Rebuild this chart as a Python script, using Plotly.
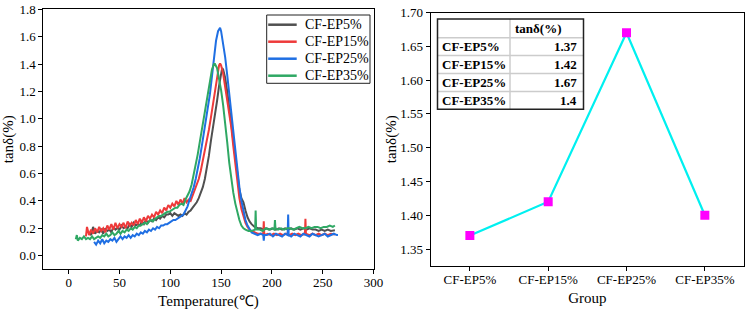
import plotly.graph_objects as go

# ---------------- data: left panel (tanδ vs temperature) ----------------
t_ep5 = [20, 22, 24, 26, 28,
         30, 32, 34, 36, 38, 40, 42, 44, 46, 48,
         50, 52, 54, 56, 58, 60, 62, 64, 66, 68,
         70, 72, 74, 76, 78, 80, 82, 84, 86, 88,
         90, 92, 94, 96, 98, 100, 102, 104, 106, 108,
         110, 112, 114, 116, 118,
         120, 122, 124, 126, 128, 130, 132, 134, 136, 138,
         140, 142, 144, 146, 148, 150, 151,
         152, 154, 156, 158, 160, 162, 164, 166, 168, 170, 172, 174, 176, 178, 180,
         183, 186, 189, 192, 195, 198, 201, 204, 207, 210, 213, 216, 219, 222, 225,
         228, 231, 234, 237, 240, 243, 246, 249, 252, 255, 258, 262]
tan_ep5 = [0.17, 0.15, 0.21, 0.16, 0.18,
           0.17, 0.19, 0.16, 0.20, 0.18, 0.19, 0.17, 0.21, 0.19, 0.20,
           0.19, 0.22, 0.20, 0.21, 0.20, 0.23, 0.21, 0.24, 0.22, 0.23,
           0.22, 0.25, 0.23, 0.26, 0.24, 0.26, 0.25, 0.27, 0.26, 0.28,
           0.27, 0.29, 0.28, 0.30, 0.30, 0.31, 0.29, 0.31, 0.30, 0.29,
           0.30, 0.29, 0.31, 0.30, 0.32,
           0.33, 0.35, 0.37, 0.39, 0.42, 0.46, 0.50, 0.56, 0.64, 0.73,
           0.84, 0.93, 1.03, 1.13, 1.24, 1.33, 1.37,
           1.36, 1.30, 1.20, 1.08, 0.97, 0.84, 0.70, 0.58, 0.48, 0.42, 0.39, 0.33, 0.28, 0.25, 0.23,
           0.21, 0.20, 0.20, 0.19, 0.20, 0.19, 0.20, 0.19, 0.20, 0.19, 0.20, 0.19, 0.20, 0.19, 0.20,
           0.19, 0.20, 0.19, 0.20, 0.19, 0.19, 0.18, 0.19, 0.18, 0.19, 0.18, 0.185]

t_ep15 = [17, 18,
          20, 22, 24, 26, 28, 30, 32, 34, 36, 38, 40, 42, 44, 46, 48, 50, 52, 54, 56, 58,
          60, 62, 64, 66, 68, 70, 72, 74, 76, 78, 80, 82, 84, 86, 88, 90, 92, 94, 96, 98,
          100, 102, 104, 106, 108, 110, 112, 114, 116, 118, 120, 122, 124, 126, 128, 130, 132, 134, 136, 138,
          140, 142, 144, 146, 148, 149, 150,
          152, 154, 156, 158, 160, 162, 164, 166, 168, 170, 172, 174, 176, 178, 180,
          183, 186, 189, 191.5, 192, 192.5,
          196, 199, 202, 205, 208, 211, 214, 217, 220, 223, 226, 229, 232,
          232.5, 233, 233.5,
          237, 240, 243, 246, 249, 252, 255, 258, 262]
tan_ep15 = [0.14, 0.21,
            0.15, 0.19, 0.16, 0.20, 0.17, 0.21, 0.18, 0.20, 0.17, 0.22, 0.19, 0.23, 0.19, 0.24, 0.20, 0.23, 0.21, 0.24, 0.20, 0.25,
            0.22, 0.24, 0.22, 0.26, 0.23, 0.27, 0.24, 0.28, 0.25, 0.29, 0.27, 0.30, 0.28, 0.32, 0.30, 0.33, 0.31, 0.35, 0.33, 0.37,
            0.35, 0.38, 0.36, 0.40, 0.37, 0.41, 0.38, 0.42, 0.39, 0.41, 0.40, 0.44, 0.47, 0.51, 0.56, 0.62, 0.69, 0.77, 0.84, 0.92,
            1.01, 1.11, 1.21, 1.31, 1.39, 1.405, 1.39,
            1.33, 1.23, 1.12, 1.03, 0.94, 0.80, 0.66, 0.53, 0.42, 0.34, 0.28, 0.24, 0.21, 0.19, 0.18,
            0.17, 0.16, 0.16, 0.16, 0.25, 0.15,
            0.16, 0.15, 0.16, 0.15, 0.16, 0.15, 0.16, 0.15, 0.16, 0.15, 0.16, 0.15, 0.16,
            0.15, 0.27, 0.16,
            0.15, 0.16, 0.15, 0.16, 0.15, 0.16, 0.15, 0.16, 0.155]

t_ep25 = [25, 27, 29, 31, 33, 35, 37, 39, 41, 43,
          45, 47, 49, 51, 53, 55, 57, 59, 61, 63,
          65, 67, 69, 71, 73, 75, 77, 79, 81, 83,
          85, 87, 89, 91, 93, 95, 97, 99, 101, 103,
          105, 107, 109, 111, 113, 115, 117, 119, 121, 123,
          125, 127, 129, 131, 133, 135, 137, 139, 141, 143, 145, 147, 148, 149,
          150, 152, 154, 156, 158, 160, 162, 164, 166, 168, 170, 172, 174, 176, 178, 180,
          183, 186, 189, 191.5, 192, 192.5,
          195, 198, 201, 204, 207, 210, 213, 215.5, 216, 216.5,
          219, 222, 225, 228, 231, 234, 237, 240, 243, 246, 249, 252, 255, 258, 261, 264, 265]
tan_ep25 = [0.10, 0.08, 0.11, 0.09, 0.12, 0.09, 0.11, 0.10, 0.12, 0.11,
            0.13, 0.10, 0.12, 0.14, 0.12, 0.14, 0.13, 0.15, 0.13, 0.15,
            0.14, 0.16, 0.15, 0.17, 0.16, 0.18, 0.17, 0.19, 0.18, 0.20,
            0.19, 0.21, 0.20, 0.22, 0.22, 0.23, 0.23, 0.24, 0.25, 0.26,
            0.26, 0.27, 0.28, 0.29, 0.30, 0.33, 0.36, 0.41, 0.45, 0.50,
            0.56, 0.63, 0.71, 0.80, 0.89, 0.97, 1.07, 1.18, 1.31, 1.45, 1.57, 1.64, 1.66, 1.665,
            1.64, 1.56, 1.45, 1.32, 1.18, 1.05, 0.92, 0.78, 0.63, 0.50, 0.40, 0.32, 0.26, 0.22, 0.19, 0.17,
            0.16, 0.15, 0.16, 0.15, 0.11, 0.15,
            0.15, 0.16, 0.14, 0.16, 0.15, 0.14, 0.16, 0.15, 0.30, 0.15,
            0.14, 0.16, 0.15, 0.14, 0.16, 0.15, 0.14, 0.16, 0.15, 0.14, 0.15, 0.16, 0.14, 0.15, 0.16, 0.15, 0.15]

t_ep35 = [7, 8, 9,
          11, 13, 15, 17, 19, 21, 23, 25, 27, 29,
          31, 33, 35, 37, 39, 41, 43, 45, 47, 49,
          51, 53, 55, 57, 59, 61, 63, 65, 67, 69,
          71, 73, 75, 77, 79, 81, 83, 85, 87, 89,
          91, 93, 95, 97, 99, 101, 103, 105, 107, 109,
          111, 113, 115, 117, 119,
          121, 123, 125, 127, 129, 131, 133, 135, 137, 139, 141, 143, 144,
          146, 148, 150, 152, 154, 156, 158, 160, 162, 164, 166, 168, 170, 172, 174,
          177, 180, 183, 183.5, 184, 184.5,
          188, 191, 194, 197, 200, 202.5, 203, 203.5,
          206, 209, 212, 215, 218, 221, 224, 227, 230, 233, 236, 239, 242, 245, 248, 251, 254, 257, 260, 262]
tan_ep35 = [0.12, 0.15, 0.11,
            0.13, 0.12, 0.14, 0.12, 0.13, 0.12, 0.14, 0.12, 0.13, 0.14,
            0.13, 0.15, 0.14, 0.16, 0.14, 0.15, 0.17, 0.15, 0.16, 0.18,
            0.16, 0.18, 0.17, 0.19, 0.18, 0.20, 0.19, 0.21, 0.20, 0.22,
            0.22, 0.23, 0.24, 0.23, 0.25, 0.26, 0.25, 0.27, 0.28, 0.29,
            0.29, 0.30, 0.31, 0.32, 0.32, 0.33, 0.34, 0.35, 0.35, 0.37,
            0.38, 0.37, 0.41, 0.44, 0.47,
            0.52, 0.59, 0.66, 0.74, 0.83, 0.92, 1.01, 1.11, 1.21, 1.30, 1.36, 1.40, 1.40,
            1.37, 1.30, 1.21, 1.10, 0.98, 0.83, 0.68, 0.55, 0.46, 0.38, 0.31, 0.26, 0.22, 0.20, 0.19,
            0.18, 0.18, 0.19, 0.19, 0.33, 0.19,
            0.19, 0.18, 0.20, 0.19, 0.20, 0.19, 0.26, 0.20,
            0.19, 0.20, 0.19, 0.20, 0.20, 0.19, 0.20, 0.21, 0.20, 0.20, 0.21, 0.20, 0.21, 0.21, 0.20, 0.21, 0.21, 0.22, 0.21, 0.22]

series_names = ["CF-EP5%", "CF-EP15%", "CF-EP25%", "CF-EP35%"]
series_colors = ["#505050", "#ee3a3a", "#1f6fe3", "#2fa864"]
series_t = [t_ep5, t_ep15, t_ep25, t_ep35]
series_tan = [tan_ep5, tan_ep15, tan_ep25, tan_ep35]

# ---------------- data: right panel (peak tanδ per group) ----------------
groups = ["CF-EP5%", "CF-EP15%", "CF-EP25%", "CF-EP35%"]
peak_tan = [1.37, 1.42, 1.67, 1.4]
table_header = ["", "tanδ(%)"]

left_x_ticks = [0, 50, 100, 150, 200, 250, 300]
left_y_ticks = [0.0, 0.2, 0.4, 0.6, 0.8, 1.0, 1.2, 1.4, 1.6, 1.8]
right_y_ticks = [1.35, 1.40, 1.45, 1.50, 1.55, 1.60, 1.65, 1.70]

for a, b in zip(series_t, series_tan):
    assert len(a) == len(b), (len(a), len(b))

FONT = "Liberation Serif, Times New Roman, Tinos, serif"
W, H = 749, 316

def px_x(p):
    return p / W

def px_y(p):
    return 1 - p / H

fig = go.Figure()

for name, col, tt, yy in zip(series_names, series_colors, series_t, series_tan):
    fig.add_trace(go.Scatter(x=tt, y=yy, mode="lines", name=name, showlegend=False,
                             line=dict(color=col, width=2), xaxis="x", yaxis="y"))

fig.add_trace(go.Scatter(x=groups, y=peak_tan, mode="lines+markers", showlegend=False,
                         line=dict(color="#00f0f0", width=2.2),
                         marker=dict(symbol="square", size=9, color="#ff00ff"),
                         xaxis="x2", yaxis="y2"))

shapes = []
annotations = []

# ---------------- legend box (left panel) ----------------
lg_x0, lg_x1, lg_y0, lg_y1 = 266.7, 370.0, 15.0, 83.3
lg_first, lg_step = 24.7, 17.0
shapes.append(dict(type="rect", xref="paper", yref="paper",
                   x0=px_x(lg_x0), x1=px_x(lg_x1), y0=px_y(lg_y1), y1=px_y(lg_y0),
                   fillcolor="white", line=dict(color="#222222", width=1), layer="above"))
for i, (name, col) in enumerate(zip(series_names, series_colors)):
    yc = px_y(lg_first + i * lg_step)
    shapes.append(dict(type="line", xref="paper", yref="paper",
                       x0=px_x(lg_x0 + 1.5), x1=px_x(lg_x0 + 30), y0=yc, y1=yc,
                       line=dict(color=col, width=2.5), layer="above"))
    annotations.append(dict(text=name, xref="paper", yref="paper",
                            x=px_x(lg_x0 + 36), y=yc, xanchor="left", yanchor="middle",
                            showarrow=False, font=dict(family=FONT, size=14, color="black")))

# ---------------- inset table (right panel) ----------------
tx0, tx1, tsplit = 437.5, 583.5, 510.0
row_edges = [19.0, 37.7, 55.6, 73.5, 91.4, 109.3]
shapes.append(dict(type="rect", xref="paper", yref="paper",
                   x0=px_x(tx0), x1=px_x(tx1), y0=px_y(row_edges[-1]), y1=px_y(row_edges[0]),
                   fillcolor="white", line=dict(width=0), layer="above"))
for e in row_edges[1:-1]:
    shapes.append(dict(type="line", xref="paper", yref="paper",
                       x0=px_x(tx0), x1=px_x(tx1), y0=px_y(e), y1=px_y(e),
                       line=dict(color="#cccccc", width=1.5), layer="above"))
shapes.append(dict(type="line", xref="paper", yref="paper",
                   x0=px_x(tsplit), x1=px_x(tsplit), y0=px_y(row_edges[-1]), y1=px_y(row_edges[0]),
                   line=dict(color="#cccccc", width=1.5), layer="above"))
shapes.append(dict(type="rect", xref="paper", yref="paper",
                   x0=px_x(tx0), x1=px_x(tx1), y0=px_y(row_edges[-1]), y1=px_y(row_edges[0]),
                   line=dict(color="#222222", width=1.5), layer="above"))

def row_mid(i):
    return px_y((row_edges[i] + row_edges[i + 1]) / 2)

annotations.append(dict(text="<b>%s</b>" % table_header[1], xref="paper", yref="paper",
                        x=px_x(tsplit + 3), y=row_mid(0), xanchor="left", yanchor="middle",
                        showarrow=False, font=dict(family=FONT, size=13, color="black")))
for i, (g, v) in enumerate(zip(groups, peak_tan)):
    annotations.append(dict(text="<b>%s</b>" % g, xref="paper", yref="paper",
                            x=px_x(tx0 + 3), y=row_mid(i + 1), xanchor="left", yanchor="middle",
                            showarrow=False, font=dict(family=FONT, size=13, color="black")))
    annotations.append(dict(text="<b>%s</b>" % v, xref="paper", yref="paper",
                            x=px_x(tx1 - 5), y=row_mid(i + 1), xanchor="right", yanchor="middle",
                            showarrow=False, font=dict(family=FONT, size=13, color="black")))

axis_common = dict(showgrid=False, zeroline=False, showline=True, mirror=True,
                   linecolor="black", linewidth=1, ticks="outside", ticklen=4,
                   tickcolor="black", tickwidth=1, automargin=False,
                   tickfont=dict(family=FONT, size=13, color="black"))

fig.update_layout(
    width=W, height=H, autosize=False, showlegend=False,
    margin=dict(l=0, r=0, t=0, b=0, autoexpand=False),
    paper_bgcolor="white", plot_bgcolor="white",
    font=dict(family=FONT, color="black"),
    xaxis=dict(domain=[px_x(43.3), px_x(373.5)], range=[-25, 300], tickvals=left_x_ticks,
               ticklabelstandoff=-3,
               title=dict(text="Temperature(℃)", font=dict(family=FONT, size=15), standoff=6),
               anchor="y", **axis_common),
    yaxis=dict(domain=[px_y(269.3), px_y(9.3)], range=[-0.1, 1.8], tickvals=left_y_ticks,
               tickformat=".1f",
               title=dict(text="tanδ(%)", font=dict(family=FONT, size=15), standoff=2),
               anchor="x", **axis_common),
    xaxis2=dict(domain=[px_x(430.7), px_x(744)], range=[-0.5, 3.5], type="category",
                ticklabelstandoff=-3,
                title=dict(text="Group", font=dict(family=FONT, size=15), standoff=6),
                anchor="y2", **axis_common),
    yaxis2=dict(domain=[px_y(266), px_y(12.5)], range=[1.325, 1.70], tickvals=right_y_ticks,
                tickformat=".2f",
                title=dict(text="tanδ(%)", font=dict(family=FONT, size=15), standoff=0),
                anchor="x2", **axis_common),
    shapes=shapes,
    annotations=annotations,
)

fig.write_html("out.html")
